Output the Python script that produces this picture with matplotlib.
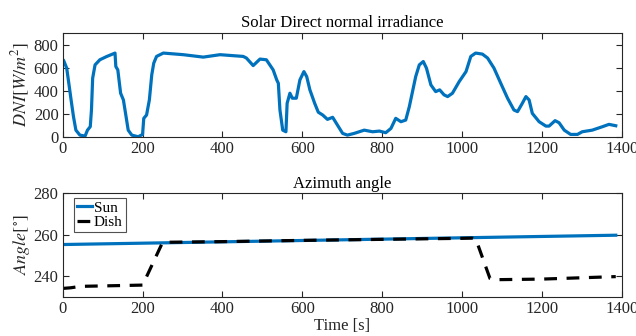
import numpy as np
import matplotlib
matplotlib.use('Agg')
import matplotlib.pyplot as plt

plt.rcParams['font.family'] = ['Liberation Serif', 'DejaVu Serif']
plt.rcParams['mathtext.fontset'] = 'stix'
plt.rcParams['font.size'] = 12

# direct normal irradiance, W/m2
t_dni = [0, 2, 10, 17, 21, 27, 33, 43, 56, 62, 69, 72, 75, 81, 93, 110, 131, 133, 138,
         145, 152, 158, 164, 173, 189, 200, 203, 210, 217, 223, 228, 235, 252, 302, 352,
         394, 452, 460, 477, 494, 510, 527, 536, 540, 544, 551, 559, 562, 569, 575, 585,
         594, 604, 611, 619, 631, 640, 651, 663, 676, 688, 701, 713, 730, 755, 776, 793,
         809, 822, 834, 847, 859, 868, 884, 893, 903, 911, 922, 934, 944, 955, 964, 976,
         993, 1010, 1022, 1034, 1051, 1064, 1080, 1097, 1114, 1130, 1139, 1151, 1160,
         1168, 1176, 1193, 1210, 1218, 1233, 1243, 1256, 1272, 1289, 1301, 1326, 1351,
         1368, 1385]
dni = [655, 665, 596, 422, 321, 176, 60, 17, 9, 60, 90, 234, 509, 624, 668, 696, 726,
       610, 580, 379, 321, 191, 60, 17, 3, 23, 162, 191, 321, 538, 639, 697, 726, 712,
       691, 712, 697, 683, 618, 674, 668, 581, 494, 465, 234, 60, 46, 292, 379, 336, 336,
       494, 566, 523, 408, 292, 215, 191, 153, 171, 104, 32, 17, 32, 60, 46, 52, 38, 75,
       162, 133, 147, 263, 523, 624, 653, 595, 451, 393, 408, 365, 350, 379, 480, 566,
       697, 726, 717, 683, 596, 465, 336, 234, 220, 292, 350, 321, 205, 133, 95, 95, 142,
       124, 60, 23, 23, 46, 60, 89, 110, 98]

# azimuth angles, degrees
t_sun = [0, 400, 800, 1200, 1385]
sun = [255.2, 256.5, 257.8, 259.1, 259.7]
t_dish = [0, 20, 45, 100, 150, 200, 212, 250, 260, 400, 600, 800, 1000, 1025, 1035,
          1070, 1078, 1200, 1385]
dish = [234.0, 234.3, 235.0, 235.2, 235.4, 235.6, 240.5, 256.2, 256.3, 256.6, 257.2,
        257.7, 258.2, 258.3, 257.6, 238.8, 238.2, 238.5, 239.7]

blue = '#0072BD'
grey = '#262626'

fig = plt.figure(figsize=(6.36, 3.36), dpi=100)
ax1 = fig.add_axes([0.0986, 0.592, 0.879, 0.310])
ax2 = fig.add_axes([0.0986, 0.117, 0.879, 0.308])

for ax in (ax1, ax2):
    ax.tick_params(direction='in', top=True, right=True, length=4.5, width=0.8,
                   colors=grey, labelsize=12, pad=3)
    for s in ax.spines.values():
        s.set_color(grey)
        s.set_linewidth(0.8)
    ax.set_xlim(0, 1400)
    ax.set_xticks(np.arange(0, 1401, 200))

ax1.plot(t_dni, dni, color=blue, lw=2.3)
ax1.set_ylim(0, 900)
ax1.set_yticks([0, 200, 400, 600, 800])
ax1.set_ylabel(r'$DNI[W/m^2]$', color=grey, labelpad=1, fontsize=13)
ax1.set_title('Solar Direct normal irradiance', fontsize=12, pad=4)

ax2.plot(t_sun, sun, color=blue, lw=2.3, label='Sun')
ax2.plot(t_dish, dish, color='black', lw=2.3, ls=(0, (4, 3)), label='Dish')
ax2.set_ylim(230, 280)
ax2.set_yticks([240, 260, 280])
ax2.set_ylabel(r'$Angle[^{\circ}]$', color=grey, labelpad=1, fontsize=13)
ax2.set_xlabel('Time [s]', color=grey, labelpad=1)
ax2.set_title('Azimuth angle', fontsize=12, pad=4)
leg = ax2.legend(loc='upper left', fontsize=11, handlelength=1.0, handletextpad=0.1,
                 borderpad=0.2, labelspacing=0.05, borderaxespad=0.3, fancybox=False,
                 bbox_to_anchor=(0.012, 1.0))
leg.get_frame().set_edgecolor(grey)
leg.get_frame().set_linewidth(0.8)

fig.savefig('out.png', dpi=100)
